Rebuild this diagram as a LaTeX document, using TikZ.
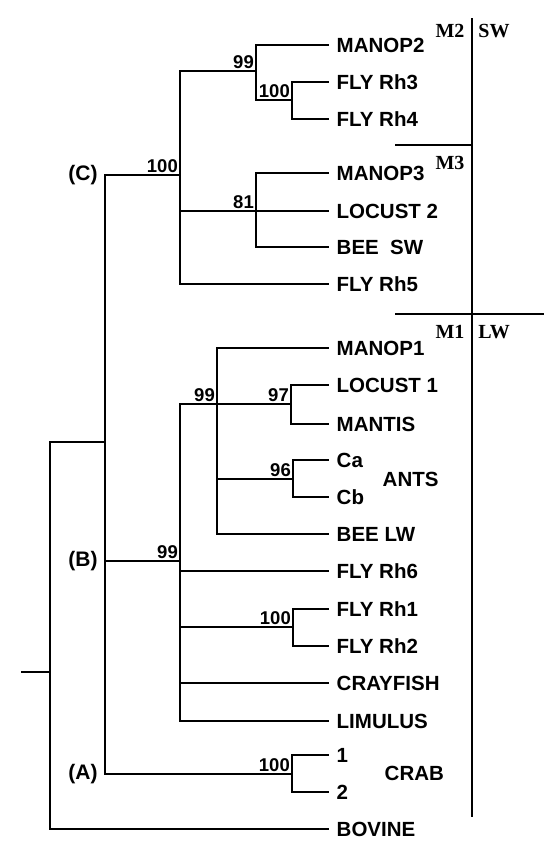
\documentclass[tikz,border=0pt]{standalone}
\usepackage{fontspec}
\setmainfont{Liberation Sans}
\newfontfamily\serifbold{Liberation Serif}
\usepackage{tikz}

\tikzset{
  branch/.style={line width=2pt,line cap=rect},
  leaf/.style={anchor=west,inner sep=0pt,xshift=8.5pt,font=\fontsize{20.5}{22}\selectfont\bfseries},
  boot/.style={anchor=south east,inner sep=2pt,font=\fontsize{18.5}{20}\selectfont\bfseries},
  clade/.style={anchor=east,inner sep=0pt,xshift=-7pt,font=\fontsize{21}{22}\selectfont\bfseries},
  opsin/.style={inner sep=0pt,font=\fontsize{20}{21}\selectfont\serifbold\bfseries}
}

\begin{document}
\begin{tikzpicture}[x=1pt,y=-1pt]
  \useasboundingbox (0,0) rectangle (547,841);

  % leaf tips
  \foreach \name/\yy in {manoptwo/45,flyrhthree/82,flyrhfour/119,manopthree/173,
      locusttwo/211,beesw/247,flyrhfive/284,manopone/348,locustone/385,mantis/424,
      antca/460,antcb/497,beelw/534,flyrhsix/571,flyrhone/609,flyrhtwo/646,
      crayfish/683,limulus/721,crabone/755,crabtwo/792,bovine/829}
    \coordinate (\name) at (328,\yy);

  % internal nodes
  \coordinate (stub) at (22,672);
  \coordinate (root) at (50,672);
  \coordinate (abc) at (104.7,442);
  \coordinate (cladeC) at (180,175);
  \coordinate (cladeB) at (180,561);
  \coordinate (cladeA) at (292,774);
  \coordinate (mtwo) at (256,71);
  \coordinate (rhtf) at (292,100);
  \coordinate (mthree) at (256,211);
  \coordinate (mone) at (217,404);
  \coordinate (locm) at (291,404);
  \coordinate (ants) at (293,479);
  \coordinate (rhot) at (293,627);

  % tree
  \draw[branch] (stub) -- (root);
  \draw[branch] (root) |- (abc);
  \draw[branch] (root) |- (bovine);
  \draw[branch] (abc) |- (cladeC);
  \draw[branch] (abc) |- (cladeB);
  \draw[branch] (abc) |- (cladeA);
  % clade C
  \draw[branch] (cladeC) |- (mtwo);
  \draw[branch] (mtwo) |- (manoptwo);
  \draw[branch] (mtwo) |- (rhtf);
  \draw[branch] (rhtf) |- (flyrhthree);
  \draw[branch] (rhtf) |- (flyrhfour);
  \draw[branch] (cladeC) |- (locusttwo);
  \draw[branch] (mthree) |- (manopthree);
  \draw[branch] (mthree) |- (beesw);
  \draw[branch] (cladeC) |- (flyrhfive);
  % clade B
  \draw[branch] (cladeB) |- (mone);
  \draw[branch] (mone) -- (locm);
  \draw[branch] (mone) |- (manopone);
  \draw[branch] (locm) |- (locustone);
  \draw[branch] (locm) |- (mantis);
  \draw[branch] (mone) |- (ants);
  \draw[branch] (ants) |- (antca);
  \draw[branch] (ants) |- (antcb);
  \draw[branch] (mone) |- (beelw);
  \draw[branch] (cladeB) |- (flyrhsix);
  \draw[branch] (cladeB) |- (rhot);
  \draw[branch] (rhot) |- (flyrhone);
  \draw[branch] (rhot) |- (flyrhtwo);
  \draw[branch] (cladeB) |- (crayfish);
  \draw[branch] (cladeB) |- (limulus);
  % clade A
  \draw[branch] (cladeA) |- (crabone);
  \draw[branch] (cladeA) |- (crabtwo);

  % leaf labels
  \node[leaf] (lmanoptwo) at (manoptwo) {MANOP2};
  \node[leaf] (lflyrhthree) at (flyrhthree) {FLY Rh3};
  \node[leaf] (lflyrhfour) at (flyrhfour) {FLY Rh4};
  \node[leaf] (lmanopthree) at (manopthree) {MANOP3};
  \node[leaf] (llocusttwo) at (locusttwo) {LOCUST 2};
  \node[leaf] (lbeesw) at (beesw) {BEE\ \ SW};
  \node[leaf] (lflyrhfive) at (flyrhfive) {FLY Rh5};
  \node[leaf] (lmanopone) at (manopone) {MANOP1};
  \node[leaf] (llocustone) at (locustone) {LOCUST 1};
  \node[leaf] (lmantis) at (mantis) {MANTIS};
  \node[leaf] (lantca) at (antca) {Ca};
  \node[leaf] (lantcb) at (antcb) {Cb};
  \node[leaf] (lbeelw) at (beelw) {BEE LW};
  \node[leaf] (lflyrhsix) at (flyrhsix) {FLY Rh6};
  \node[leaf] (lflyrhone) at (flyrhone) {FLY Rh1};
  \node[leaf] (lflyrhtwo) at (flyrhtwo) {FLY Rh2};
  \node[leaf] (lcrayfish) at (crayfish) {CRAYFISH};
  \node[leaf] (llimulus) at (limulus) {LIMULUS};
  \node[leaf] (lcrabone) at (crabone) {1};
  \node[leaf] (lcrabtwo) at (crabtwo) {2};
  \node[leaf] (lbovine) at (bovine) {BOVINE};
  \node[leaf,xshift=0pt] (lants) at (374,479) {ANTS};
  \node[leaf,xshift=0pt] (lcrab) at (376,773) {CRAB};

  % bootstrap values
  \node[boot] (bC) at (cladeC) {100};
  \node[boot] (bmtwo) at (mtwo) {99};
  \node[boot] (brhtf) at (rhtf) {100};
  \node[boot] (bmthree) at (mthree) {81};
  \node[boot] (bB) at (cladeB) {99};
  \node[boot] (bmone) at (mone) {99};
  \node[boot] (blocm) at (locm) {97};
  \node[boot] (bants) at (ants) {96};
  \node[boot] (brhot) at (rhot) {100};
  \node[boot] (bA) at (cladeA) {100};

  % clade names
  \node[clade] (nC) at (104.7,175) {(C)};
  \node[clade] (nB) at (104.7,561) {(B)};
  \node[clade] (nA) at (104.7,774) {(A)};

  % opsin classes
  \coordinate (bartop) at (471.6,18);
  \coordinate (barbot) at (471.6,817);
  \coordinate (swcut) at (395,145);
  \coordinate (lwcut) at (395,314);
  \coordinate (lwend) at (544,314);
  \draw[branch,line cap=butt] (bartop) -- (barbot);
  \draw[branch,line cap=butt] (swcut) -- (swcut -| bartop);
  \draw[branch,line cap=butt] (lwcut) -- (lwend);
  \node[opsin] (mtwolab) at (450,31) {M2};
  \node[opsin] (swlab) at (494,31) {SW};
  \node[opsin] (mthreelab) at (450,163) {M3};
  \node[opsin] (monelab) at (450,332) {M1};
  \node[opsin] (lwlab) at (494,332) {LW};
\end{tikzpicture}
\end{document}
